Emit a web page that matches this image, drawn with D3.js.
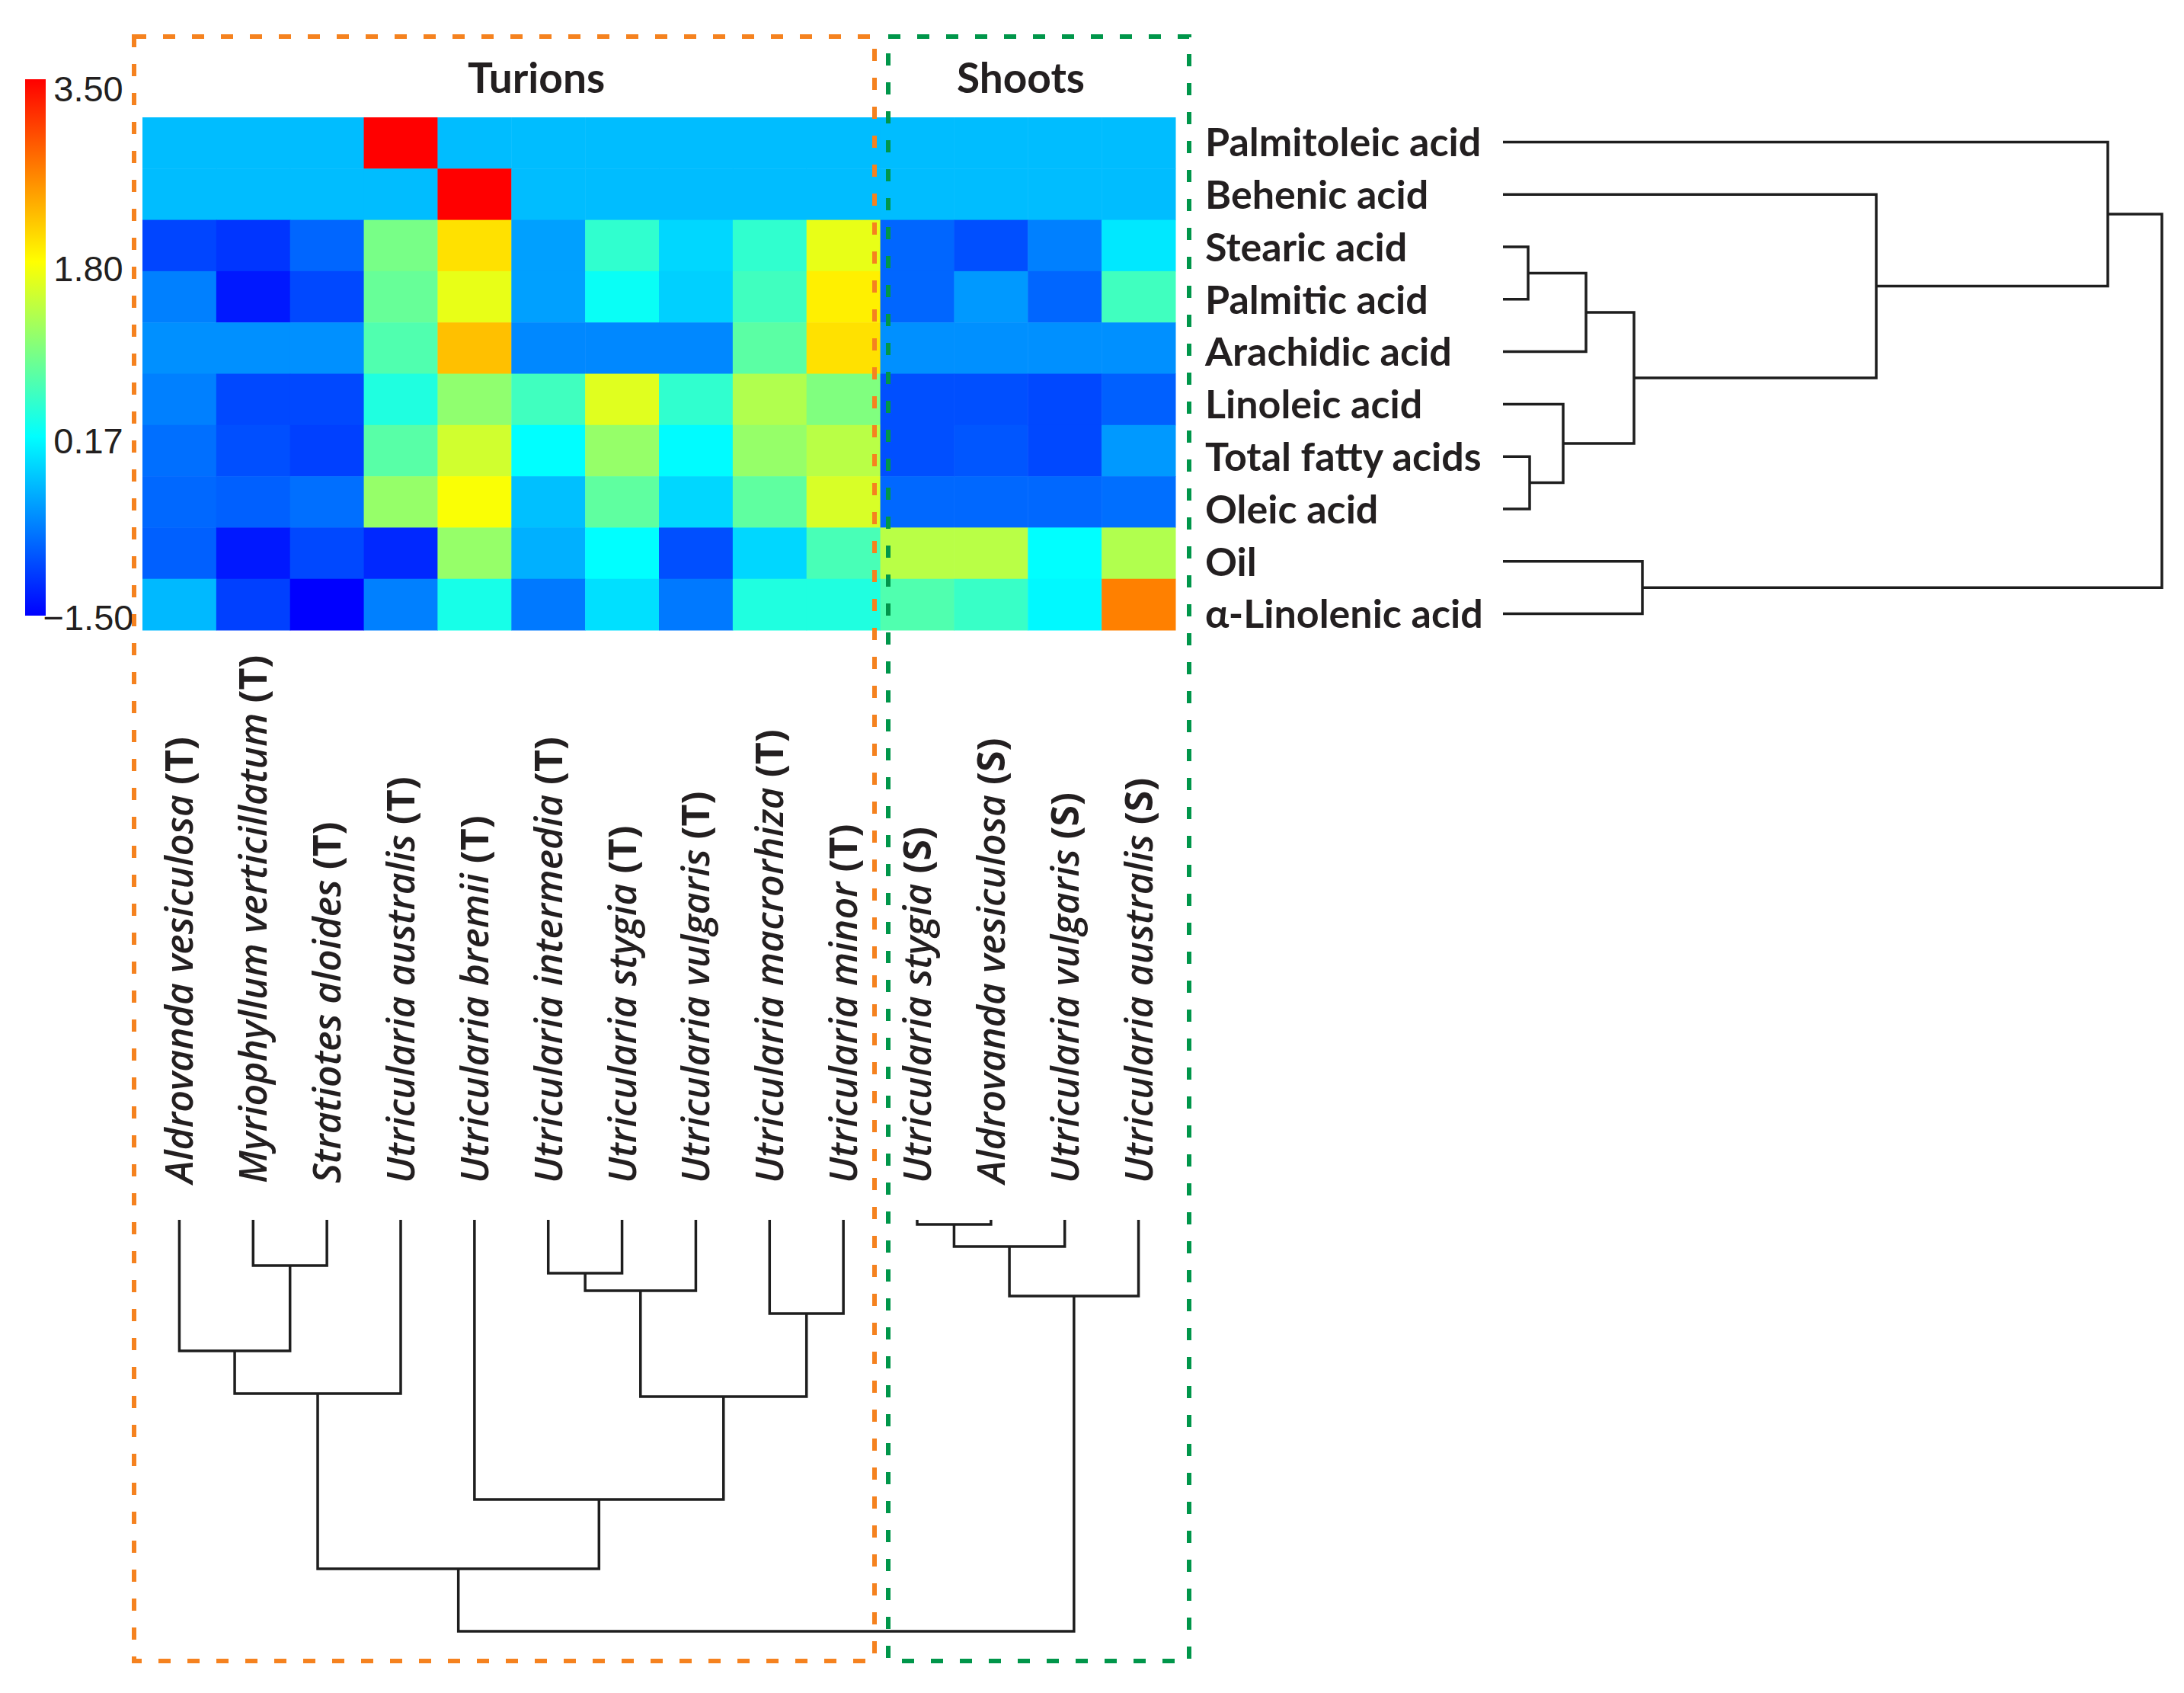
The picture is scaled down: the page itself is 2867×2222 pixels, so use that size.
<!DOCTYPE html>
<html>
<head>
<meta charset="utf-8">
<script src="https://cdn.jsdelivr.net/npm/d3@7"></script>
<style>
  body { margin: 0; background: #fff; }
  text { font-family: Lato, "Open Sans", sans-serif; fill: #231f20; }
</style>
</head>
<body>
<div id="chart"></div>
<script>
// rows of the heat map (top to bottom)
const fattyAcids = ["Palmitoleic acid", "Behenic acid", "Stearic acid", "Palmitic acid",
  "Arachidic acid", "Linoleic acid", "Total fatty acids", "Oleic acid", "Oil", "α-Linolenic acid"];

// columns (left to right)
const species = ["Aldrovanda vesiculosa", "Myriophyllum verticillatum", "Stratiotes aloides",
  "Utricularia australis", "Utricularia bremii", "Utricularia intermedia", "Utricularia stygia",
  "Utricularia vulgaris", "Utricularia macrorhiza", "Utricularia minor",
  "Utricularia stygia", "Aldrovanda vesiculosa", "Utricularia vulgaris", "Utricularia australis"];
const organ = ["T", "T", "T", "T", "T", "T", "T", "T", "T", "T", "S", "S", "S", "S"];

const groups = ["Turions", "Shoots"];

// z-scores, one array per row
const palmitoleic = [-0.26, -0.26, -0.26, 3.50, -0.26, -0.26, -0.26, -0.26, -0.26, -0.26, -0.26, -0.26, -0.26, -0.26];
const behenic     = [-0.26, -0.26, -0.26, -0.26, 3.50, -0.26, -0.26, -0.26, -0.26, -0.26, -0.26, -0.26, -0.26, -0.26];
const stearic     = [-1.05, -1.15, -0.83, 0.94, 2.00, -0.45, 0.48, -0.09, 0.48, 1.65, -0.83, -0.98, -0.66, 0.02];
const palmitic    = [-0.66, -1.34, -1.03, 0.83, 1.65, -0.45, 0.23, -0.14, 0.58, 1.90, -0.83, -0.50, -0.83, 0.58];
const arachidic   = [-0.56, -0.56, -0.56, 0.68, 2.22, -0.61, -0.61, -0.61, 0.75, 2.00, -0.56, -0.56, -0.56, -0.56];
const linoleic    = [-0.66, -1.03, -1.03, 0.37, 1.09, 0.58, 1.60, 0.48, 1.30, 0.99, -0.98, -0.98, -1.03, -0.87];
const totalFA     = [-0.77, -0.98, -1.08, 0.73, 1.50, 0.17, 1.13, 0.15, 1.13, 1.35, -0.98, -0.94, -1.03, -0.50];
const oleic       = [-0.82, -0.87, -0.77, 1.13, 1.77, -0.24, 0.78, -0.09, 0.78, 1.55, -0.82, -0.82, -0.82, -0.77];
const oil         = [-0.87, -1.34, -1.03, -1.24, 1.13, -0.35, 0.17, -0.98, -0.09, 0.63, 1.35, 1.35, 0.17, 1.30];
const linolenic   = [-0.29, -1.08, -1.50, -0.66, 0.32, -0.71, -0.03, -0.71, 0.37, 0.37, 0.68, 0.53, 0.13, 2.65];
const values = [palmitoleic, behenic, stearic, palmitic, arachidic, linoleic, totalFA, oleic, oil, linolenic];

// colour key
const colorStops = [-1.5, 0.17, 1.8, 3.5];
const colorStopColors = ["#0000ff", "#00ffff", "#ffff00", "#ff0000"];
const legendTicks = [3.50, 1.80, 0.17, -1.50];

// linkage tables: [childA, childB, height]; index >= n means an earlier merge (n + k)
const rowLinkage = [
  [2, 3, 3.3], [6, 7, 3.5], [5, 11, 7.9], [10, 4, 10.9], [13, 12, 17.2],
  [8, 9, 18.3], [1, 14, 49.0], [0, 16, 79.4], [17, 15, 86.5]
];
const colLinkage = [
  [10, 11, 0.6], [14, 12, 3.5], [1, 2, 6.0], [5, 6, 7.0], [17, 7, 9.3], [15, 13, 10.0],
  [8, 9, 12.3], [0, 16, 17.2], [21, 3, 22.8], [18, 20, 23.2], [4, 23, 36.7],
  [22, 24, 45.8], [25, 19, 54.0]
];

const W = 2867, H = 2222;
const svg = d3.select("#chart").append("svg")
  .attr("width", W).attr("height", H)
  .attr("viewBox", `0 0 ${W} ${H}`);

const x = d3.scaleBand().domain(d3.range(species.length)).range([187, 1543]);
const y = d3.scaleBand().domain(d3.range(fattyAcids.length)).range([154, 827]);
// labels and row tree sit on a slightly wider pitch than the cells
const yLab = d3.scaleBand().domain(d3.range(fattyAcids.length)).range([152, 840]);

const color = d3.scaleLinear().domain(colorStops).range(colorStopColors).clamp(true);

// heat map cells
const cells = [];
values.forEach((row, r) => row.forEach((v, c) => cells.push({ r, c, v })));
svg.append("g").selectAll("rect")
  .data(cells)
  .join("rect")
  .attr("x", d => x(d.c))
  .attr("y", d => y(d.r))
  .attr("width", x.bandwidth() + 0.5)
  .attr("height", y.bandwidth() + 0.5)
  .attr("fill", d => color(d.v));

// colour bar
const barScale = d3.scaleLinear().domain([-1.5, 3.5]).range([808, 104]);
const grad = svg.append("defs").append("linearGradient")
  .attr("id", "jet").attr("x1", 0).attr("x2", 0).attr("y1", 1).attr("y2", 0);
grad.selectAll("stop")
  .data(colorStops)
  .join("stop")
  .attr("offset", d => (d + 1.5) / 5)
  .attr("stop-color", d => color(d));
svg.append("rect")
  .attr("x", 33).attr("y", barScale(3.5))
  .attr("width", 27).attr("height", barScale(-1.5) - barScale(3.5))
  .attr("fill", "url(#jet)");
const tickScale = d3.scaleLinear().domain([-1.5, 3.5]).range([810, 116]);
svg.append("g").selectAll("text")
  .data(legendTicks)
  .join("text")
  .attr("x", 116)
  .attr("y", d => tickScale(d))
  .attr("dy", "0.36em")
  .attr("text-anchor", "middle")
  .style("font-family", "'Liberation Sans', Arial, sans-serif")
  .style("font-size", "47px")
  .text(d => d3.format(".2f")(d).replace("-", "\u2212"));

// row labels
svg.append("g").selectAll("text")
  .data(fattyAcids)
  .join("text")
  .attr("x", 1582)
  .attr("y", (d, i) => yLab(i) + yLab.bandwidth() / 2)
  .attr("dy", "0.36em")
  .style("font-size", "52px")
  .style("font-weight", 700)
  .text(d => d);

// column labels, rotated
const colLab = svg.append("g").selectAll("text")
  .data(species)
  .join("text")
  .attr("transform", (d, i) => `translate(${x(i) + x.bandwidth() / 2},1553) rotate(-90)`)
  .attr("dy", "0.36em")
  .style("font-family", "'Open Sans', sans-serif")
  .style("font-size", "50px")
  .style("font-weight", 600);
colLab.append("tspan").style("font-style", "italic").text(d => d + " ");
colLab.append("tspan").style("font-weight", 700).text((d, i) => `(${organ[i]})`);

// group titles
svg.append("g").selectAll("text")
  .data(groups)
  .join("text")
  .attr("x", (d, i) => [704, 1340][i])
  .attr("y", 122)
  .attr("text-anchor", "middle")
  .style("font-size", "55px")
  .style("font-weight", 700)
  .text(d => d);

// dendrograms
function treeNodes(linkage, n, leafPos) {
  const pos = d3.range(n).map(leafPos);
  const hgt = d3.range(n).map(() => 0);
  linkage.forEach(([a, b, h]) => {
    pos.push((pos[a] + pos[b]) / 2);
    hgt.push(h);
  });
  return { pos, hgt };
}

const colH = d3.scaleLinear().domain([0, 54]).range([1601, 2141]);
const colTree = treeNodes(colLinkage, species.length, i => x(i) + x.bandwidth() / 2);
svg.append("g").selectAll("path")
  .data(colLinkage)
  .join("path")
  .attr("fill", "none")
  .attr("stroke", "#1e1e1e")
  .attr("stroke-width", 3.5)
  .attr("d", ([a, b, h]) =>
    `M${colTree.pos[a]},${colH(colTree.hgt[a])}V${colH(h)}H${colTree.pos[b]}V${colH(colTree.hgt[b])}`);

const rowH = d3.scaleLinear().domain([0, 86.5]).range([1973, 2838]);
const rowTree = treeNodes(rowLinkage, fattyAcids.length, i => yLab(i) + yLab.bandwidth() / 2);
svg.append("g").selectAll("path")
  .data(rowLinkage)
  .join("path")
  .attr("fill", "none")
  .attr("stroke", "#1e1e1e")
  .attr("stroke-width", 3.5)
  .attr("d", ([a, b, h]) =>
    `M${rowH(rowTree.hgt[a])},${rowTree.pos[a]}H${rowH(h)}V${rowTree.pos[b]}H${rowH(rowTree.hgt[b])}`);

// dashed group frames
const frames = [
  { x0: 176, x1: 1148, color: "#f5821f" },
  { x0: 1166, x1: 1561, color: "#00964a" }
];
svg.append("g").selectAll("rect")
  .data(frames)
  .join("rect")
  .attr("x", d => d.x0)
  .attr("y", 48)
  .attr("width", d => d.x1 - d.x0)
  .attr("height", 2180 - 48)
  .attr("fill", "none")
  .attr("stroke", d => d.color)
  .attr("stroke-width", 6)
  .attr("stroke-dasharray", "16 22");
</script>
</body>
</html>
